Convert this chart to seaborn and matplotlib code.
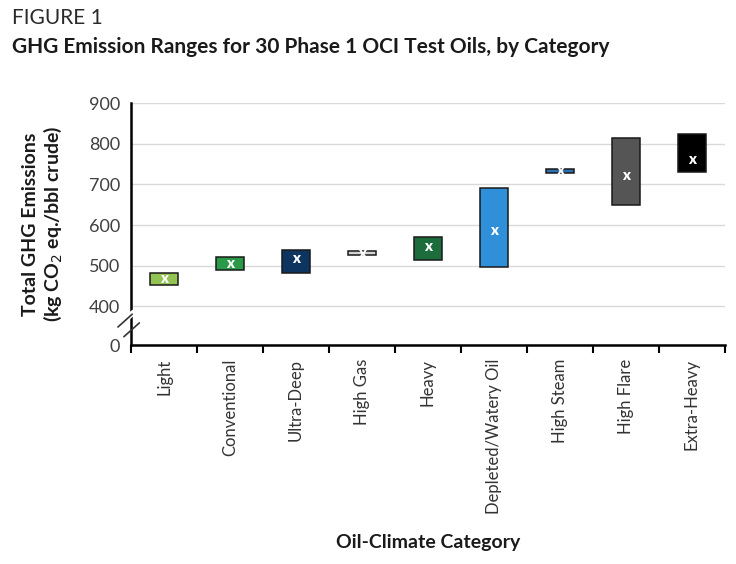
import matplotlib
matplotlib.use("Agg")
import matplotlib.pyplot as plt
import seaborn as sns
import pandas as pd

# data
categories = ["Light", "Conventional", "Ultra-Deep", "High Gas", "Heavy",
              "Depleted/Watery Oil", "High Steam", "High Flare", "Extra-Heavy"]
low = [451, 488, 482, 527, 515, 497, 729, 650, 731]
high = [482, 521, 539, 536, 571, 690, 739, 814, 823]
mean = [467, 505, 517, 531, 548, 587, 734, 723, 762]
colors = ["#92c353", "#2a9a48", "#0e355f", "#d4d4d4", "#1d6c3b",
          "#2f8fd9", "#2e6fb0", "#555555", "#000000"]
y_ticks = [400, 500, 600, 700, 800, 900]

# the axis is broken between 0 and 400, so 0 sits just under 400
y_zero = 304

df = pd.DataFrame({"category": categories, "low": low, "high": high, "mean": mean})
df["span"] = df["high"] - df["low"]

sns.set_style("white")
plt.rcParams["font.family"] = ["Lato", "DejaVu Sans"]

fig = plt.figure(figsize=(7.36, 5.64), dpi=100)
ax = fig.add_axes([0.178, 0.388, 0.807, 0.429])

sns.barplot(data=df, x="category", y="span", bottom=df["low"], width=0.42,
            color="grey", edgecolor="#1a1a1a", linewidth=1.1, ax=ax, zorder=3)

# colour each floating bar and put the mean "x" inside it
for patch, c, m, i in zip(ax.patches, colors, df["mean"], range(len(df))):
    patch.set_facecolor(c)
    t = ax.text(i, m, "x", color="white", fontsize=10.5, fontweight="heavy",
                ha="center", va="center", zorder=4)
    t.set_clip_path(patch)

ax.set_ylim(y_zero, 900)
ax.set_xlim(-0.5, len(categories) - 0.5)
ax.set_yticks([y_zero] + y_ticks)
ax.set_yticklabels(["0"] + [str(v) for v in y_ticks])
ax.yaxis.grid(True, color="#d9d9d9", linewidth=1)
ax.set_axisbelow(True)

ax.set_xticks(range(len(categories)))
ax.set_xticklabels(categories, rotation=90, fontsize=12, color="#333333")
ax.set_xticks([i - 0.5 for i in range(len(categories) + 1)], minor=True)
ax.tick_params(axis="x", which="major", length=0, pad=10)
ax.tick_params(axis="x", which="minor", length=6, width=1.5, color="black",
               direction="out", bottom=True)
ax.tick_params(axis="y", length=0, labelsize=13, labelcolor="#404040", pad=8)

for s in ["top", "right"]:
    ax.spines[s].set_visible(False)
for s in ["left", "bottom"]:
    ax.spines[s].set_color("black")
    ax.spines[s].set_linewidth(1.8)

# axis break marks
ax.plot([-0.022, 0.004], [0.078, 0.135], transform=ax.transAxes, color="white",
        linewidth=4, clip_on=False, zorder=5)
ax.plot([-0.022, 0.002], [0.075, 0.128], transform=ax.transAxes, color="#333333",
        linewidth=1.2, clip_on=False, zorder=6)
ax.plot([-0.012, 0.014], [0.035, 0.092], transform=ax.transAxes, color="#333333",
        linewidth=1.2, clip_on=False, zorder=6)

ax.set_xlabel("Oil-Climate Category", fontsize=14, fontweight="bold",
              color="#1a1a1a", labelpad=14)
ax.set_ylabel("Total GHG Emissions\n(kg CO$_2$ eq./bbl crude)", fontsize=14,
              fontweight="bold", color="#1a1a1a", labelpad=18, linespacing=1.1)

fig.text(0.016, 0.985, "FIGURE 1", fontsize=15, color="#2a2a2a", va="top")
fig.text(0.016, 0.934, "GHG Emission Ranges for 30 Phase 1 OCI Test Oils, by Category",
         fontsize=15, fontweight="bold", color="#1a1a1a", va="top")

fig.savefig("out.png", dpi=100)
